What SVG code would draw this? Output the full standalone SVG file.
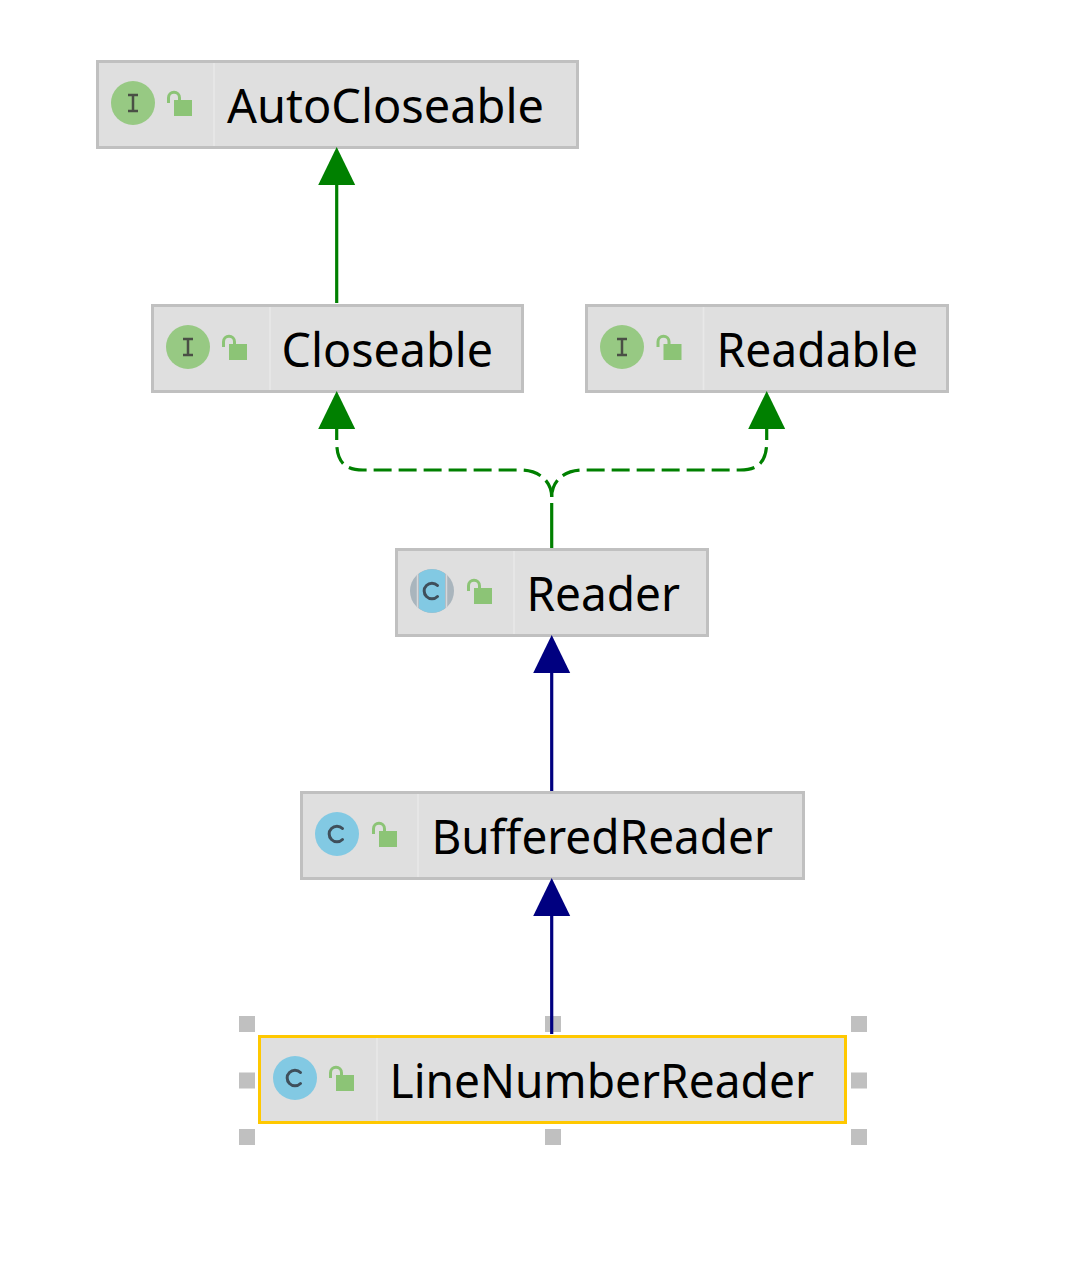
<svg xmlns="http://www.w3.org/2000/svg" width="1084" height="1262" viewBox="0 0 1084 1262">
<style>
.box{fill:#dfdfdf;stroke:#c0c0c0;stroke-width:3}
.sel{stroke:#ffc800}
.div{stroke:#e8e8e8;stroke-width:1.5}
.name{font-family:"Noto Sans","Open Sans",sans-serif;font-size:47px;fill:#000}
.ic{fill:#97c983}
.cc{fill:#82c9e3}
.lb{fill:#8cc476}
.sh{fill:none;stroke:#8cc476;stroke-width:3}
.c{fill:none;stroke:#3f4f5b;stroke-width:3;stroke-linecap:round}
.h{fill:#c0c0c0}
.green{fill:none;stroke:#008000;stroke-width:3.2}
.dash{stroke-dasharray:18 7}
.blue{fill:none;stroke:#000080;stroke-width:3.2}
</style>
<defs>
<g id="lock"><rect class="lb" x="0" y="9" width="18" height="16"/><path class="sh" d="M-5.500 12V6.700a5.500 5.500 0 0 1 11 0V9"/></g>
<g id="iI"><circle class="ic" r="22"/><path d="M-5-8H5M0-8V8M-5 8H5" fill="none" stroke="#4a4f45" stroke-width="2.5"/></g>
<g id="iC"><circle class="cc" r="22"/><path class="c" d="M5.500-5.500A7.800 7.800 0 1 0 5.500 5.500"/></g>
<g id="gtri"><path d="M0-1L-18.500 37H18.500Z" fill="#008000"/></g>
<g id="btri"><path d="M0-1L-18.500 37H18.500Z" fill="#000080"/></g>
</defs>
<g id="node-autocloseable">
<rect class="box" x="97.500" y="61.500" width="480" height="86"/><path class="div" d="M214 63V146"/>
<use href="#iI" x="133" y="103"/><use href="#lock" x="174" y="91"/>
<text class="name" x="227" y="123" textLength="317" lengthAdjust="spacingAndGlyphs">AutoCloseable</text>
</g>
<g id="node-closeable">
<rect class="box" x="152.500" y="305.500" width="370" height="86"/><path class="div" d="M270 307V390"/>
<use href="#iI" x="188" y="347"/><use href="#lock" x="229" y="335"/>
<text class="name" x="281.500" y="367" textLength="211.500" lengthAdjust="spacingAndGlyphs">Closeable</text>
</g>
<g id="node-readable">
<rect class="box" x="586.500" y="305.500" width="361" height="86"/><path class="div" d="M703.500 307V390"/>
<use href="#iI" x="622" y="347"/><use href="#lock" x="663.500" y="335"/>
<text class="name" x="716.500" y="367" textLength="201.500" lengthAdjust="spacingAndGlyphs">Readable</text>
</g>
<g id="node-reader">
<rect class="box" x="396.500" y="549.500" width="311" height="86"/><path class="div" d="M514 551V634"/>
<circle cx="432" cy="591" r="22" fill="#a9b5bd"/>
<path d="M419 573.500A22 22 0 0 1 445 573.500V608.500A22 22 0 0 1 419 608.500Z" fill="#82c9e3"/>
<path d="M417.500 574V608M446.500 574V608" stroke="#d5d8da" stroke-width="1.500"/>
<path class="c" d="M437.500 585.500A7.800 7.800 0 1 0 437.500 596.500"/>
<use href="#lock" x="474" y="579"/>
<text class="name" x="526.500" y="611" textLength="153.500" lengthAdjust="spacingAndGlyphs">Reader</text>
</g>
<g id="node-bufferedreader">
<rect class="box" x="301.500" y="792.500" width="502" height="86"/><path class="div" d="M418 794V877"/>
<use href="#iC" x="337" y="834"/><use href="#lock" x="379" y="822"/>
<text class="name" x="431.500" y="854" textLength="341.500" lengthAdjust="spacingAndGlyphs">BufferedReader</text>
</g>
<g id="node-linenumberreader">
<rect class="h" x="239" y="1016" width="16" height="16"/><rect class="h" x="545" y="1016" width="16" height="16"/><rect class="h" x="851" y="1016" width="16" height="16"/>
<rect class="h" x="239" y="1072.500" width="16" height="16"/><rect class="h" x="851" y="1072.500" width="16" height="16"/>
<rect class="h" x="239" y="1129" width="16" height="16"/><rect class="h" x="545" y="1129" width="16" height="16"/><rect class="h" x="851" y="1129" width="16" height="16"/>
<rect class="box sel" x="259.500" y="1036.500" width="586" height="86"/><path class="div" d="M377 1038V1121"/>
<use href="#iC" x="295" y="1078"/><use href="#lock" x="336" y="1066"/>
<text class="name" x="389.500" y="1098" textLength="424.500" lengthAdjust="spacingAndGlyphs">LineNumberReader</text>
</g>
<g id="connectors">
<path class="green" d="M336.700 303V180"/><use href="#gtri" x="336.700" y="148"/>
<path class="green" d="M551.700 548V503"/>
<path class="green dash" d="M551.700 497C551.700 483 541 470 520 470H363C345 470 336.700 462 336.700 442V425"/><use href="#gtri" x="336.700" y="392"/>
<path class="green dash" d="M551.700 497C551.700 483 562 470 583 470H740C758 470 766.700 462 766.700 442V425"/><use href="#gtri" x="766.700" y="392"/>
<path class="blue" d="M551.700 791V668"/><use href="#btri" x="551.700" y="636"/>
<path class="blue" d="M551.700 1034V912"/><use href="#btri" x="551.700" y="879"/>
</g>
</svg>
